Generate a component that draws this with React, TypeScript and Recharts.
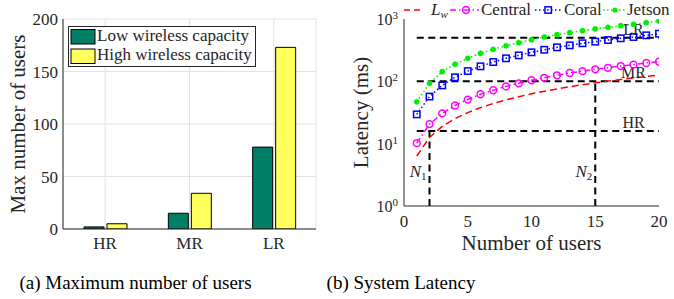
import React from 'react';
import {
  BarChart, Bar, LineChart, Line, XAxis, YAxis, CartesianGrid,
  ReferenceLine, ReferenceDot, Legend,
} from 'recharts';

// ---------- data ----------
const rangeCategories = ['HR', 'MR', 'LR'];
const lowCapacityUsers = [2, 15, 78];
const highCapacityUsers = [5, 34, 173];
const barYTicks = [0, 50, 100, 150, 200];

const userCounts = [1, 2, 3, 4, 5, 6, 7, 8, 9, 10, 11, 12, 13, 14, 15, 16, 17, 18, 19, 20];
const latencyLw = [6.3, 12.6, 18.9, 25.2, 31.5, 37.8, 44.1, 50.4, 56.7, 63, 69.3, 75.6, 81.9, 88.2, 94.5, 100.8, 107.1, 113.4, 119.7, 126];
const latencyCentral = [10.2, 20.6, 30.6, 41, 51, 62, 72, 83, 93, 104, 114, 125, 136, 146, 156, 165, 176, 185, 197, 206];
const latencyCoral = [29.5, 57, 86, 116, 146, 174, 204, 234, 261, 292, 321, 351, 378, 408, 433, 460, 490, 514, 547, 581];
const latencyJetson = [47, 93, 143, 188, 234, 281, 326, 372, 417, 466, 514, 560, 603, 649, 692, 735, 782, 822, 873, 929];
const latencyXTicks = [0, 5, 10, 15, 20];
const latencyYTicks = [1, 10, 100, 1000];
const latencyMinorTicks = [2, 3, 4, 5, 6, 7, 8, 9, 20, 30, 40, 50, 60, 70, 80, 90, 200, 300, 400, 500, 600, 700, 800, 900];
const thresholdNames = ['LR', 'MR', 'HR'];
const thresholdValues = [500, 100, 16];
const thresholdStartUsers = 1;
const thresholdEndUsers = 20;
const crossingNames = ['1', '2'];
const crossingUsers = [2, 15];
const crossingLatency = [16, 100];
const thresholdLabelUsers = 18;
const crossingLabelLatency = 2.9;

// ---------- styles ----------
const FONT = 'Liberation Serif, DejaVu Serif, serif';
const INK = '#262626';
const GREEN_BAR = '#007f66';
const YELLOW_BAR = '#ffff5e';
const RED = '#ff0000';
const MAGENTA = '#ff00ff';
const BLUE = '#0000ff';
const LIME = '#00ee00';

const txt = (size: number, extra: any = {}) => ({ fontFamily: FONT, fontSize: size, ...extra });

const barData = rangeCategories.map((cat, i) => ({ cat, low: lowCapacityUsers[i], high: highCapacityUsers[i] }));
const lineData = userCounts.map((n, i) => ({
  n, lw: latencyLw[i], central: latencyCentral[i], coral: latencyCoral[i], jetson: latencyJetson[i],
}));

// ---------- ticks / labels ----------
const BarYTick = (p: any) => (
  <text x={p.x - 5} y={p.y + 6} textAnchor="end" style={txt(17)} fill={INK}>
    {p.payload.value}
  </text>
);
const BarXTick = (p: any) => (
  <text x={p.x} y={p.y + 20} textAnchor="middle" style={txt(17)} fill={INK}>
    {p.payload.value}
  </text>
);
const LatXTick = (p: any) => (
  <text x={p.x} y={p.y + 21} textAnchor="middle" style={txt(17)} fill={INK}>
    {p.payload.value}
  </text>
);
const LatYTick = (p: any) => {
  const exp = Math.round(Math.log10(p.payload.value));
  return (
    <text x={p.x - 6} y={p.y + 6} textAnchor="end" style={txt(16)} fill={INK}>
      <tspan>10</tspan>
      <tspan dy={-6} style={txt(11)}>{exp}</tspan>
    </text>
  );
};

const BarYLabel = (p: any) => {
  const vb = p.viewBox;
  const x = vb.x + 25;
  const y = vb.y + vb.height / 2;
  return (
    <text x={x} y={y} transform={`rotate(-90 ${x} ${y})`} textAnchor="middle" style={txt(21)} fill={INK}>
      Max number of users
    </text>
  );
};
const LatYLabel = (p: any) => {
  const vb = p.viewBox;
  const x = vb.x + 28;
  const y = vb.y + vb.height / 2;
  return (
    <text x={x} y={y} transform={`rotate(-90 ${x} ${y})`} textAnchor="middle" style={txt(21)} fill={INK}>
      Latency (ms)
    </text>
  );
};
const LatXLabel = (p: any) => {
  const vb = p.viewBox;
  return (
    <text x={vb.x + vb.width / 2} y={vb.y + 44} textAnchor="middle" style={txt(21)} fill={INK}>
      Number of users
    </text>
  );
};

// ---------- markers ----------
const CentralDot = (p: any) => (
  <circle key={`c${p.index}`} cx={p.cx} cy={p.cy} r={3.4} fill="none" stroke={MAGENTA} strokeWidth={1.5} />
);
const CoralDot = (p: any) => (
  <rect key={`s${p.index}`} x={p.cx - 3.2} y={p.cy - 3.2} width={6.4} height={6.4} fill="none" stroke={BLUE} strokeWidth={1.5} />
);
const JetsonDot = (p: any) => (
  <circle key={`j${p.index}`} cx={p.cx} cy={p.cy} r={2.6} fill={LIME} stroke={LIME} strokeWidth={0.5} />
);

// ---------- legends ----------
const BarLegend = () => (
  <svg width={340} height={80} style={{ display: 'block' }}>
    <rect x={68.5} y={26.5} width={187} height={40} fill="#ffffff" stroke={INK} strokeWidth={1} />
    <rect x={71} y={29.5} width={24} height={14.5} fill={GREEN_BAR} stroke="#000" strokeWidth={1} />
    <text x={97} y={41} style={txt(17)} fill={INK}>Low wireless capacity</text>
    <rect x={71} y={49} width={24} height={14.5} fill={YELLOW_BAR} stroke="#000" strokeWidth={1} />
    <text x={97} y={60} style={txt(17)} fill={INK}>High wireless capacity</text>
  </svg>
);

const LatLegend = () => (
  <svg width={334} height={22} style={{ display: 'block' }}>
    <line x1={64} y1={10} x2={84} y2={10} stroke={RED} strokeWidth={1.5} strokeDasharray="6 4" />
    <text x={91} y={15} style={txt(17)} fill={INK}>
      <tspan style={txt(17, { fontStyle: 'italic' })}>L</tspan>
      <tspan style={txt(11, { fontStyle: 'italic' })} dy={3}>w</tspan>
    </text>
    <line x1={110} y1={10} x2={139} y2={10} stroke={MAGENTA} strokeWidth={1.5} strokeDasharray="6 3 1.5 3" />
    <circle cx={126} cy={10} r={3.4} fill="none" stroke={MAGENTA} strokeWidth={1.5} />
    <text x={141} y={15} style={txt(17)} fill={INK}>Central</text>
    <line x1={195} y1={10} x2={222} y2={10} stroke={BLUE} strokeWidth={1.5} strokeDasharray="1.5 2.5" />
    <rect x={205} y={6.8} width={6.4} height={6.4} fill="none" stroke={BLUE} strokeWidth={1.5} />
    <text x={224} y={15} style={txt(17)} fill={INK}>Coral</text>
    <line x1={263} y1={10} x2={285} y2={10} stroke={LIME} strokeWidth={1.5} strokeDasharray="1.5 2.5" />
    <circle cx={275} cy={10} r={2.6} fill={LIME} />
    <text x={287} y={15} style={txt(17)} fill={INK}>Jetson</text>
  </svg>
);

const ThresholdLabel = (text: string) => (p: any) => {
  const vb = p.viewBox;
  return (
    <text x={vb.x} y={vb.y - 3} textAnchor="middle" style={txt(16)} fill={INK}>{text}</text>
  );
};
const CrossingLabel = (sub: string) => (p: any) => {
  const vb = p.viewBox;
  return (
    <text x={vb.x - 3} y={vb.y} textAnchor="end" style={txt(17)} fill={INK}>
      <tspan style={txt(17, { fontStyle: 'italic' })}>N</tspan>
      <tspan style={txt(11)} dy={3}>{sub}</tspan>
    </text>
  );
};

// ---------- charts ----------
const MaxUsersChart = () => (
  <BarChart width={340} height={260} data={barData} margin={{ top: 19, right: 24, bottom: 0, left: 0 }} barGap={3} barSize={20}>
    <CartesianGrid stroke="#e2e2e2" strokeWidth={1} />
    <XAxis dataKey="cat" height={31} tickLine={false} axisLine={{ stroke: INK }} tick={BarXTick} tickSize={0} tickMargin={0} />
    <XAxis xAxisId="top" dataKey="cat" orientation="top" mirror height={0} tick={false} tickSize={3.5} tickLine={{ stroke: INK }} axisLine={{ stroke: INK }} />
    <XAxis xAxisId="btm" dataKey="cat" orientation="bottom" mirror height={0} tick={false} tickSize={3.5} tickLine={{ stroke: INK }} axisLine={false} />
    <YAxis type="number" domain={[0, 200]} ticks={barYTicks} allowDataOverflow width={63} tickLine={false} axisLine={{ stroke: INK }} tick={BarYTick} tickSize={0} tickMargin={0} label={BarYLabel} />
    <YAxis yAxisId="lm" type="number" domain={[0, 200]} ticks={barYTicks} allowDataOverflow mirror width={0} tick={false} tickSize={3.5} tickLine={{ stroke: INK }} axisLine={false} />
    <YAxis yAxisId="rm" orientation="right" type="number" domain={[0, 200]} ticks={barYTicks} allowDataOverflow mirror width={0} tick={false} tickSize={3.5} tickLine={{ stroke: INK }} axisLine={{ stroke: INK }} />
    <Bar dataKey="low" fill={GREEN_BAR} stroke="#000" strokeWidth={1} isAnimationActive={false} />
    <Bar dataKey="high" fill={YELLOW_BAR} stroke="#000" strokeWidth={1} isAnimationActive={false} />
    <Legend layout="horizontal" verticalAlign="middle" align="center" content={BarLegend} wrapperStyle={{ top: 0, left: 0, width: 340, height: 80 }} />
  </BarChart>
);

const LatencyChart = () => (
  <LineChart width={334} height={260} data={lineData} margin={{ top: 19, right: 15, bottom: 0, left: 0 }}>
    <XAxis dataKey="n" type="number" domain={[0, 20]} ticks={latencyXTicks} allowDataOverflow height={54} tickLine={false} axisLine={{ stroke: INK }} tick={LatXTick} tickSize={0} tickMargin={0} label={LatXLabel} />
    <XAxis xAxisId="top" dataKey="n" type="number" domain={[0, 20]} ticks={latencyXTicks} allowDataOverflow orientation="top" mirror height={0} tick={false} tickSize={5} tickLine={{ stroke: INK }} axisLine={{ stroke: INK }} />
    <XAxis xAxisId="btm" dataKey="n" type="number" domain={[0, 20]} ticks={latencyXTicks} allowDataOverflow orientation="bottom" mirror height={0} tick={false} tickSize={5} tickLine={{ stroke: INK }} axisLine={false} />
    <YAxis type="number" scale="log" domain={[1, 1000]} ticks={latencyYTicks} allowDataOverflow width={64} tickLine={false} axisLine={{ stroke: INK }} tick={LatYTick} tickSize={0} tickMargin={0} label={LatYLabel} />
    <YAxis yAxisId="lm" type="number" scale="log" domain={[1, 1000]} ticks={latencyYTicks} allowDataOverflow mirror width={0} tick={false} tickSize={5} tickLine={{ stroke: INK }} axisLine={false} interval={0} />
    <YAxis yAxisId="lmin" type="number" scale="log" domain={[1, 1000]} ticks={latencyMinorTicks} allowDataOverflow mirror width={0} tick={false} tickSize={3} tickLine={{ stroke: INK }} axisLine={false} interval={0} />
    <YAxis yAxisId="rm" orientation="right" type="number" scale="log" domain={[1, 1000]} ticks={latencyYTicks} allowDataOverflow mirror width={0} tick={false} tickSize={5} tickLine={{ stroke: INK }} axisLine={{ stroke: INK }} interval={0} />
    <YAxis yAxisId="rmin" orientation="right" type="number" scale="log" domain={[1, 1000]} ticks={latencyMinorTicks} allowDataOverflow mirror width={0} tick={false} tickSize={3} tickLine={{ stroke: INK }} axisLine={false} interval={0} />

    {thresholdValues.map((v, i) => (
      <ReferenceLine key={`h${i}`} segment={[{ x: thresholdStartUsers, y: v }, { x: thresholdEndUsers, y: v }]} stroke="#000" strokeWidth={2} strokeDasharray="7 4.5" />
    ))}
    {crossingUsers.map((u, i) => (
      <ReferenceLine key={`v${i}`} segment={[{ x: u, y: 1 }, { x: u, y: crossingLatency[i] }]} stroke="#000" strokeWidth={2} strokeDasharray="7 4.5" />
    ))}

    <Line dataKey="lw" stroke={RED} strokeWidth={1.5} strokeDasharray="7 4" dot={false} isAnimationActive={false} />
    <Line dataKey="central" stroke={MAGENTA} strokeWidth={1.5} strokeDasharray="6 3 1.5 3" dot={CentralDot} isAnimationActive={false} />
    <Line dataKey="coral" stroke={BLUE} strokeWidth={1.5} strokeDasharray="1.5 2.5" dot={CoralDot} isAnimationActive={false} />
    <Line dataKey="jetson" stroke={LIME} strokeWidth={1.5} strokeDasharray="1.5 2.5" dot={JetsonDot} isAnimationActive={false} />

    {thresholdNames.map((name, i) => (
      <ReferenceDot key={`t${i}`} x={thresholdLabelUsers} y={thresholdValues[i]} r={0} fill="none" stroke="none" label={ThresholdLabel(name)} />
    ))}
    {crossingNames.map((name, i) => (
      <ReferenceDot key={`n${i}`} x={crossingUsers[i]} y={crossingLabelLatency} r={0} fill="none" stroke="none" label={CrossingLabel(name)} />
    ))}
    <Legend layout="horizontal" verticalAlign="middle" align="center" content={LatLegend} wrapperStyle={{ top: 0, left: 0, width: 334, height: 22 }} />
  </LineChart>
);

export default function App() {
  return (
    <div style={{ position: 'absolute', left: 0, top: 0, width: 674, height: 299, background: '#ffffff', overflow: 'hidden' }}>
      <svg width={674} height={299} style={{ position: 'absolute', left: 0, top: 0 }}>
        <text x={135.5} y={289} textAnchor="middle" style={txt(19)} fill="#000">(a) Maximum number of users</text>
        <text x={401} y={289} textAnchor="middle" style={txt(19)} fill="#000">(b) System Latency</text>
      </svg>
      <div style={{ position: 'absolute', left: 0, top: 0 }}>
        <MaxUsersChart />
      </div>
      <div style={{ position: 'absolute', left: 340, top: 0 }}>
        <LatencyChart />
      </div>
    </div>
  );
}
